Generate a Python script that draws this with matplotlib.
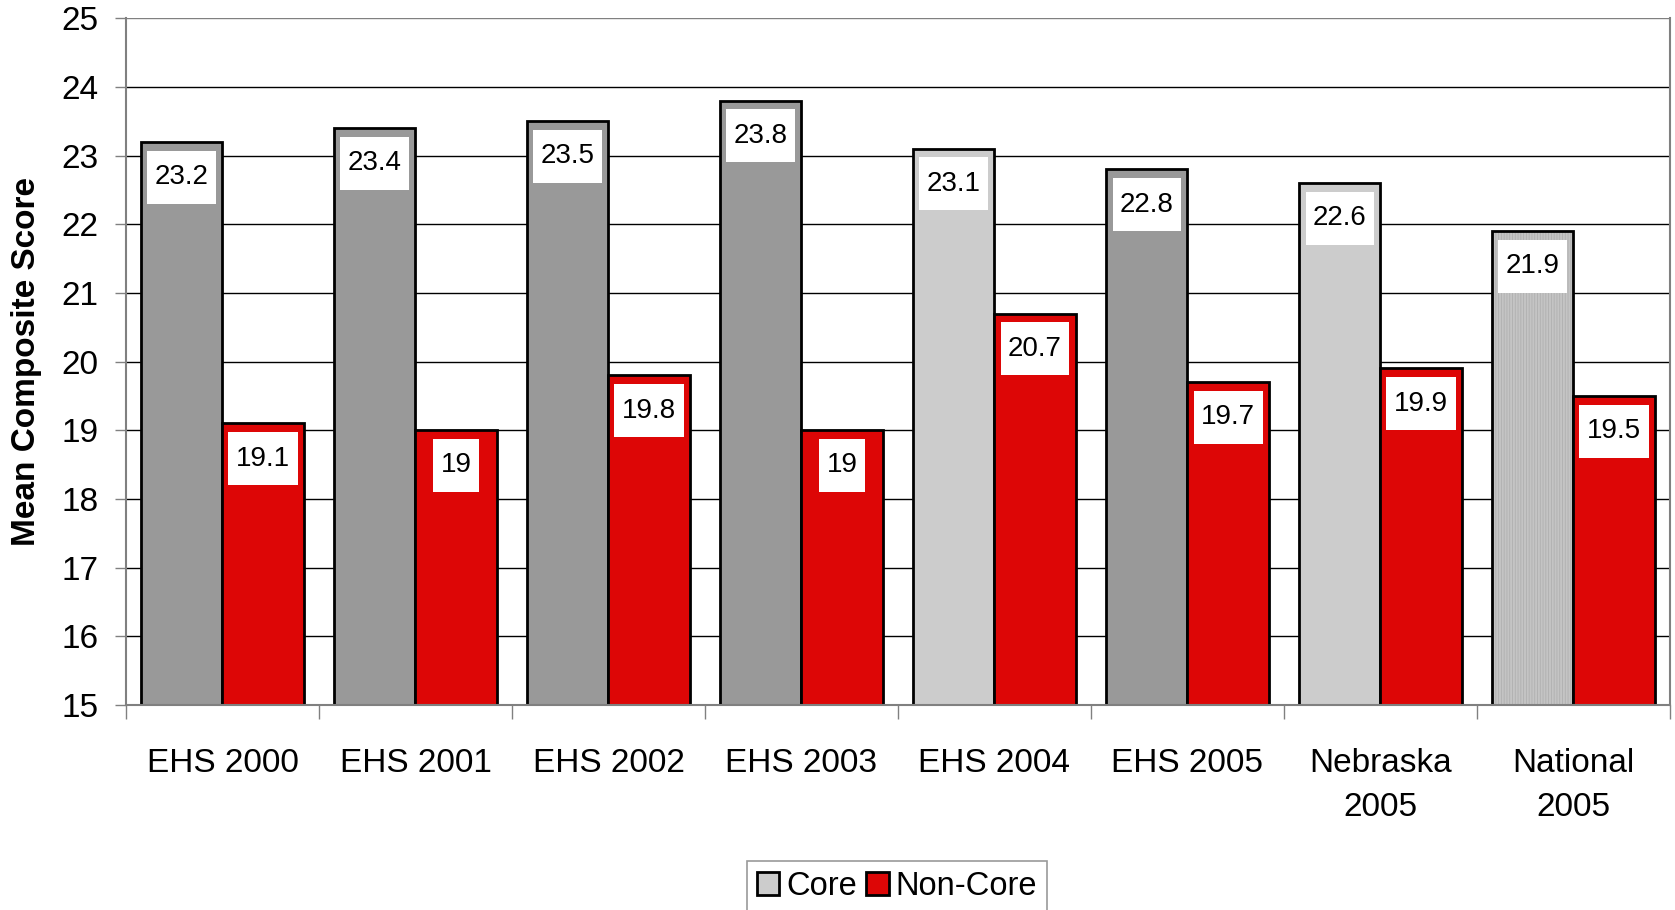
import matplotlib
matplotlib.use("Agg")
import matplotlib.pyplot as plt
import numpy as np
from matplotlib.patches import Patch

categories = ["EHS 2000", "EHS 2001", "EHS 2002", "EHS 2003", "EHS 2004",
              "EHS 2005", "Nebraska\n2005", "National\n2005"]
core = [23.2, 23.4, 23.5, 23.8, 23.1, 22.8, 22.6, 21.9]
noncore = [19.1, 19.0, 19.8, 19.0, 20.7, 19.7, 19.9, 19.5]
core_colors = ["#999999", "#999999", "#999999", "#999999", "#CCCCCC",
               "#999999", "#CCCCCC", "#C4C4C4"]
core_hatch = [None, None, None, None, None, None, None, "||||||"]
red = "#DD0606"

plt.rcParams['font.family'] = ['Liberation Sans', 'DejaVu Sans']
plt.rcParams['hatch.linewidth'] = 0.6

fig = plt.figure(figsize=(16.75, 9.1), dpi=100)
ax = fig.add_axes([0.0752, 0.2253, 0.9218, 0.7547])

x = np.arange(len(categories))
w = 0.42
ymin = 15

# gridlines
for yv in range(16, 26):
    ax.axhline(yv, color="#808080" if yv == 25 else "black", lw=1.0, zorder=0)

# core bars: fill (with optional hatch) then outline
for i in range(len(categories)):
    h = core[i] - ymin
    if core_hatch[i]:
        ax.bar(x[i] - w / 2, h, w, bottom=ymin, color=core_colors[i],
               hatch=core_hatch[i], edgecolor="#AFAFAF", lw=0, zorder=2)
    else:
        ax.bar(x[i] - w / 2, h, w, bottom=ymin, color=core_colors[i],
               lw=0, zorder=2)
ax.bar(x - w / 2, np.array(core) - ymin, w, bottom=ymin, fill=False,
       edgecolor="black", lw=2, zorder=3)
ax.bar(x + w / 2, np.array(noncore) - ymin, w, bottom=ymin, color=red,
       edgecolor="black", lw=2, zorder=3)

# value labels
def lab(xp, v):
    ax.annotate(f"{v:g}", xy=(xp, v), xytext=(0, -16), textcoords="offset points",
                ha="center", va="top", fontsize=20, zorder=5,
                bbox=dict(boxstyle="square,pad=0.27", fc="white", ec="none",
                          mutation_aspect=1.8))

for i in range(len(categories)):
    lab(x[i] - w / 2, core[i])
    lab(x[i] + w / 2, noncore[i])

ax.set_xlim(-0.5, len(categories) - 0.5)
ax.set_ylim(15, 25)
ax.set_yticks(range(15, 26))
ax.tick_params(axis="y", labelsize=24, length=8, width=1, color="#808080", pad=12)

ax.set_xticks(np.arange(-0.5, len(categories), 1.0))
ax.set_xticklabels([])
ax.tick_params(axis="x", which="major", length=10, width=1, color="#808080")
ax.set_xticks(x, minor=True)
ax.set_xticklabels(categories, minor=True, fontsize=24, linespacing=1.52)
ax.tick_params(axis="x", which="minor", length=0, pad=31)

for s in ["top", "right"]:
    ax.spines[s].set_visible(False)
for s in ["left", "bottom"]:
    ax.spines[s].set_color("#808080")
    ax.spines[s].set_linewidth(1.5)
    ax.spines[s].set_zorder(4)
ax.plot([1, 1], [0, 1], transform=ax.transAxes, color="#808080", lw=1.5, clip_on=False)

ax.set_ylabel("Mean Composite Score", fontsize=24, fontweight="bold", labelpad=14)

handles = [Patch(facecolor="#CCCCCC", edgecolor="black", lw=2, label="Core"),
           Patch(facecolor=red, edgecolor="black", lw=2, label="Non-Core")]
leg = fig.legend(handles=handles, loc="upper center", ncol=2,
                 bbox_to_anchor=(0.5355, 0.0535), fontsize=23.5, frameon=True,
                 fancybox=False, edgecolor="#808080", handlelength=0.7,
                 handleheight=0.7, handletextpad=0.2, columnspacing=0.3,
                 borderpad=0.3, borderaxespad=0)
leg.get_frame().set_linewidth(1.2)

fig.savefig("out.png", dpi=100)
